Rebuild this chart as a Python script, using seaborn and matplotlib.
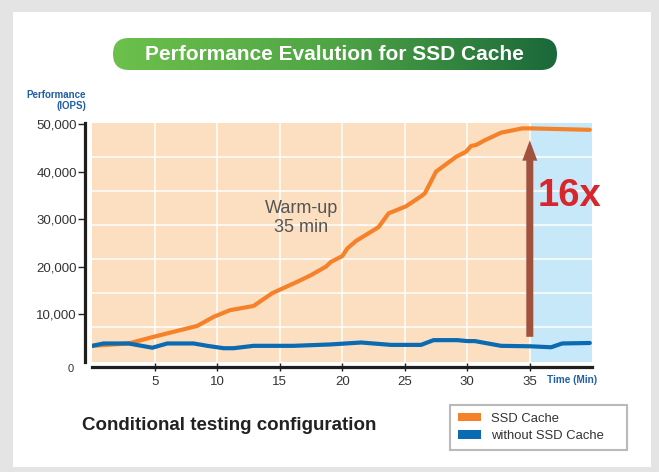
import numpy as np
import pandas as pd
import matplotlib
matplotlib.use("Agg")
import matplotlib.pyplot as plt
import seaborn as sns
from matplotlib.patches import Rectangle, FancyBboxPatch, Patch
from matplotlib.colors import LinearSegmentedColormap
from matplotlib.transforms import ScaledTranslation

# ---------------- data ----------------
time_ssd = [0, 2.9, 4.9, 8.4, 9.7, 11.0, 12.9, 14.4, 16.4, 17.5, 18.7, 19.1, 20.0, 20.4,
            21.1, 22.9, 23.7, 25.1, 26.3, 26.6, 27.5, 29.1, 29.9, 30.3, 30.7, 31.4, 32.7,
            34.4, 35.1, 39.8]
iops_ssd = [3300, 3800, 5200, 7500, 9400, 10800, 11700, 14400, 16800, 18200, 20000, 21000,
            22200, 23800, 25400, 28300, 31200, 32700, 34800, 35400, 40000, 43100, 44200,
            45400, 45600, 46600, 48200, 49100, 49100, 48800]
time_no = [0, 0.9, 2.9, 4.8, 6.0, 8.1, 9.2, 10.5, 11.3, 12.9, 16.1, 19.1, 21.5, 23.9, 26.3,
           27.3, 29.2, 30.0, 30.6, 32.7, 35.1, 36.7, 37.6, 39.8]
iops_no = [3300, 3800, 3800, 2900, 3800, 3800, 3300, 2800, 2800, 3300, 3300, 3600, 4000,
           3500, 3500, 4500, 4500, 4300, 4300, 3300, 3200, 3000, 3800, 3900]
series_names = ["SSD Cache", "without SSD Cache"]
x_ticks = [5, 10, 15, 20, 25, 30, 35]
y_ticks = [0, 10000, 20000, 30000, 40000, 50000]
y_tick_labels = ["0", "10,000", "20,000", "30,000", "40,000", "50,000"]
warmup_end = 35
x_max = 40
y_max = 50300
arrow_from, arrow_to = 5200, 46600

df = pd.DataFrame({
    "Time": time_ssd + time_no,
    "IOPS": iops_ssd + iops_no,
    "Series": [series_names[0]] * len(time_ssd) + [series_names[1]] * len(time_no),
})

ORANGE = "#f5822a"
BLUE = "#0a6ab2"

sns.set_theme(style="white")
plt.rcParams["font.family"] = ["Liberation Sans", "DejaVu Sans"]

W, H = 659, 472
fig = plt.figure(figsize=(W / 100, H / 100), dpi=100, facecolor="#e4e4e4")
fig.patches.append(Rectangle((13 / W, 1 - 467 / H), (651 - 13) / W, (467 - 12) / H,
                             transform=fig.transFigure, facecolor="white",
                             edgecolor="none", zorder=-10))

ax = fig.add_axes([92.3 / W, 1 - 361.5 / H, 500 / W, (361.5 - 122.7) / H])
ax.set_facecolor("none")
ax.set_xlim(0, x_max)
ax.set_ylim(0, y_max)

# background zones
ax.axvspan(0, warmup_end, color="#fcdfc1", lw=0, zorder=0)
ax.axvspan(warmup_end, x_max, color="#c7e8f8", lw=0, zorder=0)
for xv in x_ticks:
    ax.axvline(xv, color="white", lw=1.1, zorder=1)
for i in range(1, 7):
    ax.plot([0, 1], [i / 7, i / 7], transform=ax.transAxes, color="white", lw=1.1, zorder=1)

sns.lineplot(data=df, x="Time", y="IOPS", hue="Series", palette=[ORANGE, BLUE],
             estimator=None, sort=False, lw=3.0, ax=ax, legend=False, zorder=3)

# arrow
ax.arrow(warmup_end, arrow_from, 0, arrow_to - arrow_from, width=0.56, head_width=1.2,
         head_length=4300, length_includes_head=True, color="#a0523f", lw=0, zorder=4)
ax.text(38.2, 34800, "16x", ha="center", va="center", fontsize=27.5, fontweight="bold",
        color="#d8262c", zorder=5)
ax.text(16.74, 30200, "Warm-up\n35 min", ha="center", va="center", fontsize=13,
        color="#555555", linespacing=1.1, zorder=5)

# axes styling
for s in ["top", "right"]:
    ax.spines[s].set_visible(False)
ax.spines["left"].set_position(("outward", 5))
ax.spines["bottom"].set_position(("outward", 4.2))
for s in ["left", "bottom"]:
    ax.spines[s].set_linewidth(2.3)
    ax.spines[s].set_color("#1e1e1e")
ax.set_xticks(x_ticks)
ax.set_yticks(y_ticks)
ax.set_yticklabels(y_tick_labels)
ax.tick_params(axis="y", direction="out", length=5, width=1, color="#222222", pad=1,
               labelsize=9.5, labelcolor="#333333", left=True)
ax.tick_params(axis="x", direction="inout", length=6, width=1, color="#222222", pad=3,
               labelsize=9.5, labelcolor="#333333", bottom=True)
ax.yaxis.get_major_ticks()[0].tick1line.set_visible(False)
lab0 = ax.get_yticklabels()[0]
lab0.set_fontsize(8)
lab0.set_transform(lab0.get_transform() + ScaledTranslation(-3 / 100, -6 / 100, fig.dpi_scale_trans))
ax.set_xlabel("")
ax.set_ylabel("")

# axis captions
fig.text(86 / W, 1 - 100.5 / H, "Performance\n(IOPS)", ha="right", va="center",
         multialignment="right", fontsize=7, fontweight="bold", color="#1f5fa8",
         linespacing=1.2)
fig.text(572 / W, 1 - 380 / H, "Time (Min)", ha="center", va="center", fontsize=7.2,
         fontweight="bold", color="#1f5fa8")

# title banner with gradient
bx0, bx1, by0, by1 = 113, 557, 38, 70
bax = fig.add_axes([bx0 / W, 1 - by1 / H, (bx1 - bx0) / W, (by1 - by0) / H])
bax.set_axis_off()
bw, bh = bx1 - bx0, by1 - by0
bax.set_xlim(0, bw)
bax.set_ylim(0, bh)
cmap = LinearSegmentedColormap.from_list("g", ["#6cc04b", "#4fa545", "#1b683a"])
grad = np.linspace(0, 1, 256).reshape(1, -1)
im = bax.imshow(grad, extent=[0, bw, 0, bh], aspect="auto", cmap=cmap)
clip = FancyBboxPatch((0, 0), bw, bh, boxstyle="round,pad=0,rounding_size=16",
                      facecolor="none", edgecolor="none", transform=bax.transData)
bax.add_patch(clip)
im.set_clip_path(clip)
bax.text(bw / 2 - 1, bh / 2 - 0.5, "Performance Evalution for SSD Cache", ha="center",
         va="center", fontsize=15, fontweight="bold", color="white")

# footer
fig.text(82 / W, 1 - 425 / H, "Conditional testing configuration", ha="left", va="center",
         fontsize=13.5, fontweight="bold", color="#222222")

handles = [Patch(facecolor=ORANGE, edgecolor="none", label=series_names[0]),
           Patch(facecolor=BLUE, edgecolor="none", label=series_names[1])]
leg = fig.legend(handles=handles, loc="center",
                 bbox_to_anchor=(450 / W, 1 - 451 / H, 177 / W, 47 / H),
                 mode="expand", fontsize=9.4, frameon=True, fancybox=False,
                 handlelength=1.8, handleheight=0.65, handletextpad=0.75,
                 labelspacing=0.45, borderpad=0.6, borderaxespad=0)
leg.get_frame().set_edgecolor("#a9a9a9")
leg.get_frame().set_linewidth(1.5)
for t in leg.get_texts():
    t.set_color("#333333")

fig.savefig("out.png", dpi=100)
